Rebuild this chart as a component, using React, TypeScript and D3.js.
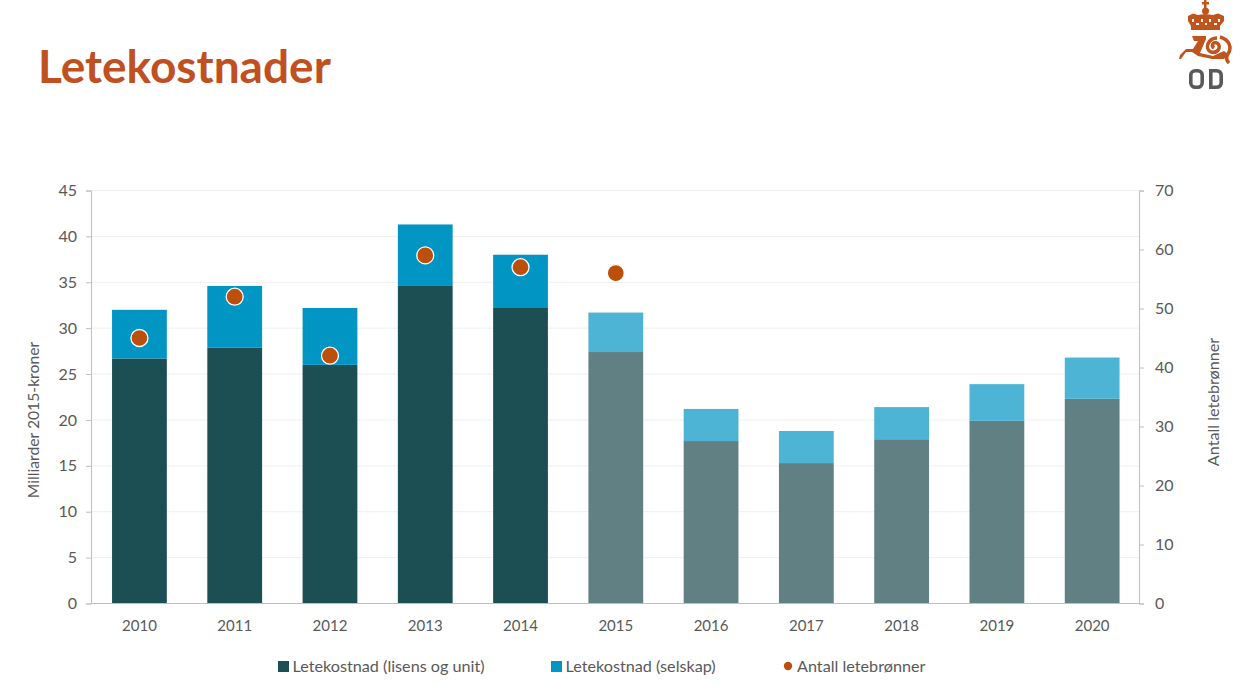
import { useEffect, useRef } from "react";
import * as d3 from "d3";

const years = ["2010", "2011", "2012", "2013", "2014", "2015", "2016", "2017", "2018", "2019", "2020"];
const lisens = [26.7, 27.9, 26.0, 34.6, 32.2, 27.4, 17.7, 15.3, 17.9, 19.9, 22.3];
const selskap = [5.3, 6.7, 6.2, 6.7, 5.8, 4.3, 3.5, 3.5, 3.5, 4.0, 4.5];
const wellYears = ["2010", "2011", "2012", "2013", "2014", "2015"];
const wells = [45, 52, 42, 59, 57, 56];
const forecastFrom = "2015";

const leftTicks = [0, 5, 10, 15, 20, 25, 30, 35, 40, 45];
const rightTicks = [0, 10, 20, 30, 40, 50, 60, 70];

const width = 1243;
const height = 693;
const margin = { top: 190.5, right: 104, bottom: 89.5, left: 91 };
const font = "Lato, 'Noto Sans', sans-serif";
const textColor = "#595959";
const darkColor = "#1c4f54";
const darkFaded = "#608084";
const blueColor = "#0095c3";
const blueFaded = "#4db4d5";
const orange = "#bd4f0c";
const logoOrange = "#c0541c";
const logoGrey = "#58595b";

export default function App() {
  const svgRef = useRef<SVGSVGElement | null>(null);

  useEffect(() => {
    const svg = d3.select(svgRef.current);
    svg.selectAll("*").remove(); // clean before drawing

    const x = d3
      .scaleBand()
      .domain(years)
      .range([margin.left + 0.8, width - margin.right + 0.8])
      .paddingInner(0.425)
      .paddingOuter(0.2125);
    const y = d3.scaleLinear().domain([0, 45]).range([height - margin.bottom, margin.top]);
    const y2 = d3.scaleLinear().domain([0, 70]).range([height - margin.bottom, margin.top]);

    svg
      .append("text")
      .attr("x", 38)
      .attr("y", 83)
      .attr("font-size", 46)
      .attr("font-weight", 700)
      .attr("fill", "#c0501f")
      .text("Letekostnader");

    // gridlines
    svg
      .append("g")
      .selectAll("line")
      .data(leftTicks.slice(1))
      .join("line")
      .attr("x1", margin.left)
      .attr("x2", width - margin.right)
      .attr("y1", (d) => y(d))
      .attr("y2", (d) => y(d))
      .attr("stroke", "#f0f0f0");

    // bars
    const bars = svg.append("g");
    bars
      .selectAll("rect.lisens")
      .data(years)
      .join("rect")
      .attr("class", "lisens")
      .attr("x", (d) => x(d)!)
      .attr("width", x.bandwidth())
      .attr("y", (_, i) => y(lisens[i]))
      .attr("height", (_, i) => y(0) - y(lisens[i]))
      .attr("fill", (d) => (d >= forecastFrom ? darkFaded : darkColor));
    bars
      .selectAll("rect.selskap")
      .data(years)
      .join("rect")
      .attr("class", "selskap")
      .attr("x", (d) => x(d)!)
      .attr("width", x.bandwidth())
      .attr("y", (_, i) => y(lisens[i] + selskap[i]))
      .attr("height", (_, i) => y(lisens[i]) - y(lisens[i] + selskap[i]))
      .attr("fill", (d) => (d >= forecastFrom ? blueFaded : blueColor));

    // axes
    const styleAxis = (g: any) => {
      g.selectAll("path").attr("stroke", "#bfbfbf");
      g.selectAll("line").attr("stroke", "#bfbfbf");
      g.selectAll("text").attr("fill", textColor).attr("font-family", font).attr("font-size", 16);
    };

    svg
      .append("g")
      .attr("transform", `translate(${margin.left},0)`)
      .call(d3.axisLeft(y).tickValues(leftTicks).tickSize(5).tickSizeOuter(5).tickPadding(9))
      .call(styleAxis);
    svg
      .append("g")
      .attr("transform", `translate(${width - margin.right},0)`)
      .call(d3.axisRight(y2).tickValues(rightTicks).tickSize(5).tickSizeOuter(5).tickPadding(11))
      .call(styleAxis);
    svg
      .append("g")
      .attr("transform", `translate(0,${height - margin.bottom})`)
      .call(d3.axisBottom(x).tickSize(0).tickPadding(17))
      .call(styleAxis)
      .call((g: any) => {
        g.select("path.domain").remove();
        g.selectAll("text").attr("font-size", 15);
      });
    svg
      .append("line")
      .attr("x1", margin.left)
      .attr("x2", width - margin.right)
      .attr("y1", y(0))
      .attr("y2", y(0))
      .attr("stroke", "#bfbfbf");

    // axis titles
    svg
      .append("text")
      .attr("transform", "translate(39,420) rotate(-90)")
      .attr("text-anchor", "middle")
      .attr("font-size", 15.7)
      .attr("fill", textColor)
      .text("Milliarder 2015-kroner");
    svg
      .append("text")
      .attr("transform", "translate(1219,402) rotate(-90)")
      .attr("text-anchor", "middle")
      .attr("font-size", 16.2)
      .attr("fill", textColor)
      .text("Antall letebrønner");

    // wells
    svg
      .append("g")
      .selectAll("circle")
      .data(wellYears)
      .join("circle")
      .attr("cx", (d) => x(d)! + x.bandwidth() / 2)
      .attr("cy", (_, i) => y2(wells[i]))
      .attr("r", 8.5)
      .attr("fill", orange)
      .attr("stroke", "#fff")
      .attr("stroke-width", 1.3);

    // legend
    const legend = svg.append("g").attr("font-size", 16.2).attr("fill", textColor);
    const legendItems = [
      { label: "Letekostnad (lisens og unit)", color: darkColor, pos: 278, kind: "rect" },
      { label: "Letekostnad (selskap)", color: blueColor, pos: 551, kind: "rect" },
      { label: "Antall letebrønner", color: orange, pos: 784, kind: "dot" },
    ];
    legendItems.forEach((item) => {
      if (item.kind === "rect") {
        legend
          .append("rect")
          .attr("x", item.pos)
          .attr("y", 661)
          .attr("width", 11)
          .attr("height", 11)
          .attr("fill", item.color);
      } else {
        legend
          .append("circle")
          .attr("cx", item.pos + 4)
          .attr("cy", 666)
          .attr("r", 4.2)
          .attr("fill", item.color);
      }
      legend
        .append("text")
        .attr("x", item.pos + (item.kind === "rect" ? 14.5 : 13))
        .attr("y", 672)
        .text(item.label);
    });

    // logo, crown and lion drawn roughly, with the OD letters below
    const logo = svg.append("g").attr("fill", logoOrange);
    logo.append("rect").attr("x", 1204).attr("y", 0).attr("width", 2.5).attr("height", 8);
    logo.append("rect").attr("x", 1202).attr("y", 2).attr("width", 7).attr("height", 2.5);
    logo.append("circle").attr("cx", 1205.5).attr("cy", 11).attr("r", 3.5);
    logo
      .append("path")
      .attr(
        "d",
        "M1188 16 L1193 13.5 L1198 15 L1205 14 L1213 15 L1218 13.5 L1224 16 L1224 21 L1220 26 L1220 30 L1191 30 L1191 26 L1188 21 Z"
      );
    logo
      .append("path")
      .attr("fill", "#fff")
      .attr(
        "d",
        "M1192 19 h2 v3 h-2 Z M1196 23 h3 v2 h-3 Z M1201 19 h2 v3 h-2 Z M1205 23 h2 v2 h-2 Z M1209 19 h2 v3 h-2 Z M1214 23 h3 v2 h-3 Z M1218 19 h2 v3 h-2 Z"
      );
    logo
      .append("path")
      .attr(
        "d",
        "M1192 36 L1206 36 L1206 39 L1200 53 L1213 56 L1224 51 L1228 54 L1224 59 L1212 59 L1198 56 L1192 52 L1186 52 L1181 59 L1179 59 L1180 55 L1186 49 L1193 49 L1198 41 L1194 41 Z"
      );
    logo
      .append("path")
      .attr("fill", "none")
      .attr("stroke", logoOrange)
      .attr("stroke-width", 3.5)
      .attr("d", "M1214 48 C1211 46 1213 41 1217 43 C1222 46 1218 54 1211 52 C1204 49 1208 38 1217 38");
    logo
      .append("path")
      .attr("fill", "none")
      .attr("stroke", logoOrange)
      .attr("stroke-width", 3.5)
      .attr("d", "M1220 37 C1230 40 1232 48 1228 54 C1226 57 1226 60 1229 63");

    const letters = svg
      .append("g")
      .attr("fill", "none")
      .attr("stroke", logoGrey)
      .attr("stroke-width", 3.6);
    letters
      .append("rect")
      .attr("x", 1190.8)
      .attr("y", 70.8)
      .attr("width", 11.4)
      .attr("height", 16.4)
      .attr("rx", 4.5);
    letters.append("path").attr("d", "M1210.8 70.8 h5.5 c3.5 0 4.9 2 4.9 5 v6.4 c0 3 -1.4 5 -4.9 5 h-5.5 Z");
  }, []);

  return (
    <svg
      ref={svgRef}
      width={width}
      height={height}
      fontFamily={font}
      style={{ position: "absolute", top: 0, left: 0, background: "#fff" }}
      role="img"
      aria-label="Letekostnader"
    ></svg>
  );
}
